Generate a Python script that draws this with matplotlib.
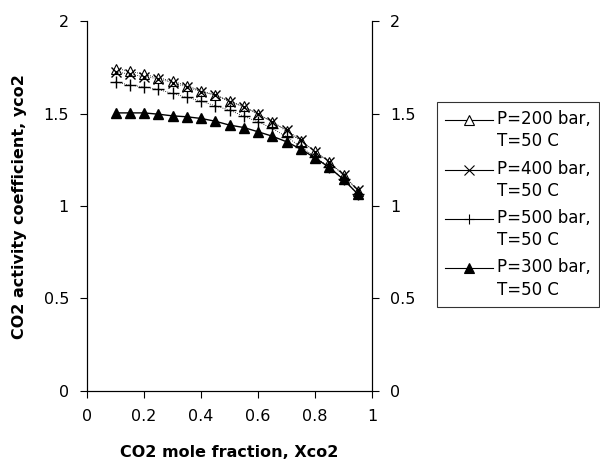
import numpy as np
import matplotlib
matplotlib.use("Agg")
import matplotlib.pyplot as plt
from matplotlib.lines import Line2D
from matplotlib.legend_handler import HandlerLine2D

plt.rcParams['font.family'] = ['DejaVu Sans']

# CO2 mole fraction
x_co2 = [0.10, 0.15, 0.20, 0.25, 0.30, 0.35, 0.40, 0.45, 0.50,
         0.55, 0.60, 0.65, 0.70, 0.75, 0.80, 0.85, 0.90, 0.95]

# activity coefficients
g_200 = [1.744, 1.730, 1.712, 1.695, 1.675, 1.652, 1.622, 1.603, 1.568,
         1.541, 1.497, 1.456, 1.405, 1.352, 1.296, 1.238, 1.166, 1.084]
g_400 = [1.726, 1.714, 1.699, 1.690, 1.667, 1.645, 1.618, 1.600, 1.564,
         1.537, 1.497, 1.456, 1.411, 1.357, 1.294, 1.240, 1.168, 1.086]
g_500 = [1.672, 1.654, 1.645, 1.631, 1.609, 1.588, 1.568, 1.542, 1.519,
         1.486, 1.456, 1.420, 1.375, 1.321, 1.267, 1.211, 1.144, 1.065]
g_300 = [1.504, 1.504, 1.504, 1.497, 1.488, 1.483, 1.474, 1.459, 1.438,
         1.425, 1.402, 1.378, 1.348, 1.308, 1.261, 1.209, 1.144, 1.065]

labels = ['P=200 bar,\nT=50 C', 'P=400 bar,\nT=50 C',
          'P=500 bar,\nT=50 C', 'P=300 bar,\nT=50 C']

fs = 11.5


class TopLineHandler(HandlerLine2D):
    # put the legend sample next to the first text line
    def create_artists(self, legend, orig_handle, xdescent, ydescent,
                       width, height, fontsize, trans):
        return super().create_artists(legend, orig_handle, xdescent,
                                      ydescent - 16, width, height,
                                      fontsize, trans)


fig = plt.figure(figsize=(6, 4.61), dpi=100)
ax = fig.add_axes([0.145, 0.152, 0.475, 0.802])

ax.plot(x_co2, g_200, color='black', lw=0.6, ls=':', marker='^', ms=7,
        mfc='white', mec='black', mew=0.8, label=labels[0])
ax.plot(x_co2, g_400, color='black', lw=0.6, ls=':', marker='x', ms=7,
        mew=1.0, label=labels[1])
ax.plot(x_co2, g_500, color='black', lw=0.6, ls=':', marker='+', ms=8,
        mew=1.0, label=labels[2])
ax.plot(x_co2, g_300, color='black', lw=1.0, ls='-', marker='^', ms=7,
        mfc='black', mec='black', label=labels[3])

ax.set_xlim(0, 1)
ax.set_ylim(0, 2)
ax.set_xticks([0, 0.2, 0.4, 0.6, 0.8, 1])
ax.set_xticklabels(['0', '0.2', '0.4', '0.6', '0.8', '1'])
ax.set_yticks([0, 0.5, 1, 1.5, 2])
ax.set_yticklabels(['0', '0.5', '1', '1.5', '2'])
ax.spines['top'].set_visible(False)
ax.tick_params(direction='out', length=5, width=0.8, labelsize=fs, pad=8)
ax.set_xlabel('CO2 mole fraction, Xco2', fontsize=fs, fontweight='bold',
              labelpad=15)
ax.set_ylabel('CO2 activity coefficient, yco2', fontsize=fs,
              fontweight='bold', labelpad=12)

ax2 = ax.twinx()
ax2.set_ylim(0, 2)
ax2.set_yticks([0, 0.5, 1, 1.5, 2])
ax2.set_yticklabels(['0', '0.5', '1', '1.5', '2'])
ax2.spines['top'].set_visible(False)
ax2.tick_params(direction='out', length=5, width=0.8, labelsize=fs, pad=8)

handles, labs = ax.get_legend_handles_labels()
leg_handles = [Line2D([], [], color='black', lw=0.8, marker=h.get_marker(),
                      ms=7, mfc=h.get_markerfacecolor(), mec='black',
                      mew=0.8) for h in handles]
leg = fig.legend(leg_handles, labs, loc='upper left',
                 bbox_to_anchor=(0.728, 0.779), fontsize=12,
                 frameon=True, fancybox=False, edgecolor='black',
                 handlelength=2.9, handletextpad=0.2, labelspacing=0.55,
                 borderpad=0.5, borderaxespad=0,
                 handler_map={Line2D: TopLineHandler()})
for t in leg.get_texts():
    t.set_linespacing(1.3)
leg.get_frame().set_linewidth(0.8)

fig.savefig('out.png', dpi=100, facecolor='white')
